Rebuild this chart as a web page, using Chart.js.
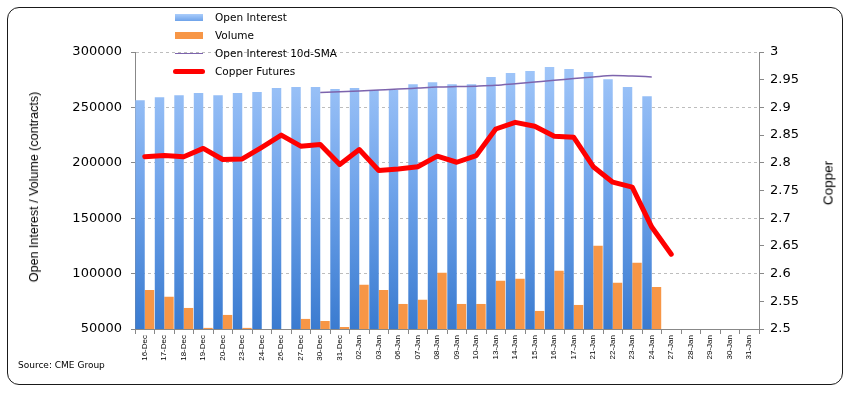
<!DOCTYPE html>
<html>
<head>
<meta charset="utf-8">
<script src="https://cdn.jsdelivr.net/npm/chart.js@4.4.1/dist/chart.umd.min.js"></script>
<style>
  body { margin: 0; background: #fff; }
  #wrap { position: relative; width: 853px; height: 397px; overflow: hidden; background: #fff; }
  #frame { position: absolute; left: 7px; top: 7px; width: 834px; height: 376px; border: 1px solid #1a1a1a; border-radius: 12px; }
  #chart { position: absolute; left: 0; top: 0; }
  .lgText { position: absolute; left: 215px; font: 10.5px "DejaVu Sans"; color: #000; white-space: nowrap; line-height: 12px; }
  .lgSym { position: absolute; }
  .vtitle { position: absolute; white-space: nowrap; color: #000; transform: translate(-50%, -50%) rotate(-90deg); }
  #source { position: absolute; left: 18px; top: 360px; font: 9px "DejaVu Sans"; color: #000; white-space: nowrap; }
</style>
</head>
<body>
<div id="wrap">
  <div id="frame"></div>
  <canvas id="chart" width="853" height="397"></canvas>
  <div class="vtitle" style="left:34px; top:187px; font:12.5px 'Liberation Sans';">Open Interest / Volume (contracts)</div>
  <div class="vtitle" style="left:828px; top:183px; font:13.5px 'Liberation Sans';">Copper</div>
  <div id="source">Source: CME Group</div>
</div>
<script>
var labels = ['16-Dec', '17-Dec', '18-Dec', '19-Dec', '20-Dec', '23-Dec', '24-Dec', '26-Dec', '27-Dec', '30-Dec',
  '31-Dec', '02-Jan', '03-Jan', '06-Jan', '07-Jan', '08-Jan', '09-Jan', '10-Jan', '13-Jan', '14-Jan',
  '15-Jan', '16-Jan', '17-Jan', '21-Jan', '22-Jan', '23-Jan', '24-Jan', '27-Jan', '28-Jan', '29-Jan',
  '30-Jan', '31-Jan'];

var openInterest = [256500, 259200, 261000, 262900, 261000, 262900, 263800, 267400, 268300, 268300,
  266500, 267400, 265600, 265600, 271000, 272800, 271000, 271000, 277400, 281000,
  282800, 286400, 284600, 281900, 275500, 268300, 260100, null, null, null,
  null, null];

var volume = [85300, 79000, 69000, 51000, 62700, 51000, null, null, 59100, 57200,
  51800, 89900, 85300, 72600, 76300, 100700, 72600, 72600, 93500, 95300,
  66300, 102500, 71700, 125200, 91700, 109800, 88000, null, null, null,
  null, null];

var oiSma = [null, null, null, null, null, null, null, null, null, 263500,
  264100, 264900, 265700, 266500, 267400, 268300, 268800, 269200, 269900, 271400,
  272900, 274400, 276000, 277500, 278800, 278300, 277500, null, null, null,
  null, null];

var copper = [2.811, 2.813, 2.811, 2.826, 2.806, 2.807, 2.828, 2.850, 2.830, 2.833,
  2.797, 2.824, 2.786, 2.789, 2.793, 2.812, 2.801, 2.813, 2.861, 2.873,
  2.866, 2.848, 2.846, 2.793, 2.765, 2.756, 2.684, 2.635, null, null,
  null, null];

var leftTicks = [50000, 100000, 150000, 200000, 250000, 300000];
var rightTicks = [2.5, 2.55, 2.6, 2.65, 2.7, 2.75, 2.8, 2.85, 2.9, 2.95, 3];

var legendItems = [
  {label: 'Open Interest', kind: 'box', color: 'linear-gradient(#aacdfb, #6fa3ea)'},
  {label: 'Volume', kind: 'box', color: '#f79646'},
  {label: 'Open Interest 10d-SMA', kind: 'thin', color: '#7d64ad'},
  {label: 'Copper Futures', kind: 'thick', color: '#ff0000'}
];

// legend drawn as html on top of the canvas
function buildLegend(){
  var wrap = document.getElementById('wrap');
  var rowY = [17, 35, 53.5, 71.5];
  legendItems.forEach(function(item, i){
    var sym = document.createElement('div');
    sym.className = 'lgSym';
    var cy = rowY[i];
    if (item.kind === 'box'){
      sym.style.cssText = 'left:175px;width:28px;height:7px;top:' + (cy - 3.5) + 'px;background:' + item.color;
    } else if (item.kind === 'thin'){
      sym.style.cssText = 'left:175px;width:28px;height:1.5px;top:' + (cy - 0.75) + 'px;background:' + item.color;
    } else {
      sym.style.cssText = 'left:173px;width:32px;height:5px;border-radius:3px;top:' + (cy - 2.5) + 'px;background:' + item.color;
    }
    wrap.appendChild(sym);
    var txt = document.createElement('div');
    txt.className = 'lgText';
    txt.style.top = (cy - 6.5) + 'px';
    txt.textContent = item.label;
    wrap.appendChild(txt);
  });
}
buildLegend();

var oiGradient = null;
function oiColor(context){
  var chart = context.chart;
  var area = chart.chartArea;
  if (!area) return '#6fa3ea';
  if (!oiGradient){
    oiGradient = chart.ctx.createLinearGradient(0, area.top, 0, area.bottom);
    oiGradient.addColorStop(0, '#a6cafb');
    oiGradient.addColorStop(0.5, '#6fa3ea');
    oiGradient.addColorStop(1, '#3a7bd0');
  }
  return oiGradient;
}

new Chart(document.getElementById('chart'), {
  type: 'bar',
  data: {
    labels: labels,
    datasets: [{
      type: 'line',
      label: 'Copper Futures',
      data: copper,
      yAxisID: 'y1',
      borderColor: '#ff0000',
      borderWidth: 5,
      borderJoinStyle: 'round',
      borderCapStyle: 'round',
      pointRadius: 0,
      tension: 0,
      order: 0
    }, {
      type: 'line',
      label: 'Open Interest 10d-SMA',
      data: oiSma,
      yAxisID: 'y',
      borderColor: '#7d64ad',
      borderWidth: 1.5,
      pointRadius: 0,
      cubicInterpolationMode: 'monotone',
      order: 1
    }, {
      label: 'Open Interest',
      data: openInterest,
      yAxisID: 'y',
      backgroundColor: oiColor,
      categoryPercentage: 0.97,
      barPercentage: 1.0,
      order: 3
    }, {
      label: 'Volume',
      data: volume,
      yAxisID: 'y',
      backgroundColor: '#f79646',
      categoryPercentage: 0.97,
      barPercentage: 1.0,
      order: 4
    }]
  },
  options: {
    responsive: false,
    animation: false,
    layout: {padding: {top: 52, left: 0, right: 0, bottom: 0}},
    plugins: {legend: {display: false}, tooltip: {enabled: false}},
    scales: {
      x: {
        offset: true,
        grid: {offset: true, drawOnChartArea: false, tickLength: 5, color: '#888'},
        border: {color: '#888'},
        ticks: {
          autoSkip: false, minRotation: 90, maxRotation: 90, padding: 1,
          color: '#000', font: {family: 'Liberation Sans', size: 8}
        },
        afterFit: function(scale){ scale.height = 68; }
      },
      y: {
        position: 'left',
        min: 50000, max: 300000,
        afterBuildTicks: function(axis){ axis.ticks = leftTicks.map(function(v){ return {value: v}; }); },
        grid: {color: '#bdbdbd', tickColor: '#888', tickLength: 4},
        border: {color: '#888', dash: [3, 3]},
        ticks: {
          padding: 9, color: '#000', font: {family: 'DejaVu Sans', size: 13},
          callback: function(v){ return String(v); }
        },
        afterFit: function(scale){ scale.width = 135; }
      },
      y1: {
        position: 'right',
        min: 2.5, max: 3,
        afterBuildTicks: function(axis){ axis.ticks = rightTicks.map(function(v){ return {value: v}; }); },
        grid: {drawOnChartArea: false, color: '#888', tickLength: 5},
        border: {color: '#888'},
        ticks: {
          padding: 6, color: '#000', font: {family: 'DejaVu Sans', size: 13},
          callback: function(v){ return String(parseFloat(v.toFixed(2))); }
        },
        afterFit: function(scale){ scale.width = 94; }
      }
    }
  }
});
</script>
</body>
</html>
